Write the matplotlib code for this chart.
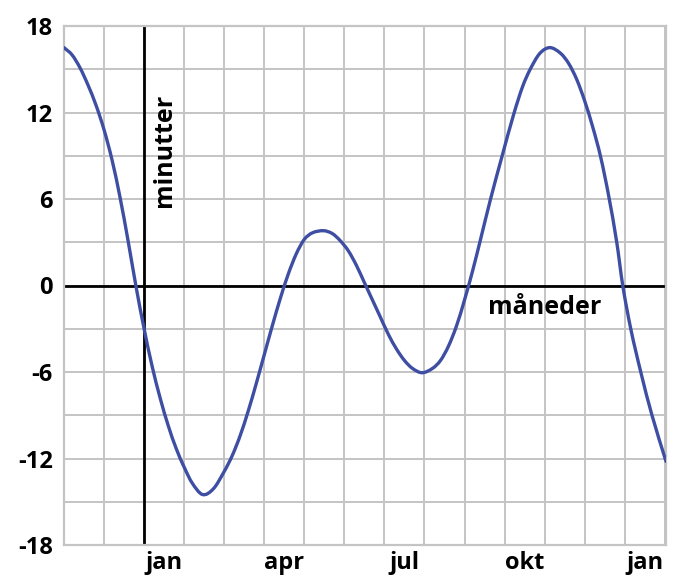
import matplotlib
matplotlib.use("Agg")
import matplotlib.pyplot as plt
from matplotlib.path import Path
from matplotlib.patches import PathPatch

# months since 1 January, value in minutes
months = [-2.0, -1.8, -1.6, -1.4, -1.2, -1.0, -0.8, -0.6, -0.4, -0.2,
          0.0, 0.2, 0.4, 0.6, 0.8, 1.0, 1.2, 1.46, 1.73, 2.0, 2.2, 2.4,
          2.6, 2.8, 3.0, 3.2, 3.4, 3.6, 3.8, 4.0, 4.2, 4.48, 4.7, 4.9,
          5.1, 5.3, 5.5, 5.7, 5.9, 6.1, 6.3, 6.5, 6.7, 6.94, 7.2, 7.4,
          7.6, 7.8, 8.0, 8.2, 8.4, 8.65, 8.94, 9.23, 9.45, 9.64, 9.88,
          10.13, 10.4, 10.6, 10.8, 11.0, 11.2, 11.4, 11.6, 11.8, 11.95,
          12.15, 12.4, 12.68, 13.03]
minutes = [16.5, 16.0, 15.1, 13.9, 12.5, 10.8, 8.7, 6.1, 3.1, -0.1,
           -3.0, -5.6, -7.8, -9.7, -11.3, -12.6, -13.7, -14.5, -14.1, -12.9, -11.8, -10.4,
           -8.7, -6.8, -4.8, -2.8, -0.9, 0.8, 2.2, 3.2, 3.65, 3.8, 3.6, 3.1,
           2.4, 1.4, 0.2, -1.0, -2.2, -3.4, -4.4, -5.2, -5.75, -6.05, -5.75, -5.2,
           -4.2, -2.8, -1.0, 1.0, 3.2, 6.0, 9.0, 11.9, 13.8, 15.0, 16.1,
           16.5, 16.1, 15.4, 14.3, 12.8, 11.0, 8.9, 6.2, 3.0, 0.0,
           -3.0, -6.0, -9.0, -12.2]

y_ticks = [-18, -12, -6, 0, 6, 12, 18]
x_label_pos = [0.5, 3.5, 6.5, 9.5, 12.5]
x_labels = ["jan", "apr", "jul", "okt", "jan"]

plt.rcParams['font.family'] = ['Open Sans', 'DejaVu Sans']

fig = plt.figure(figsize=(6.8, 5.8), dpi=100)
ax = fig.add_axes([64/680, 1 - 545/580, 602/680, 519/580])

ax.set_xlim(-2, 13.03)
ax.set_ylim(-18, 18)

grid_c = "#c4c4c4"
for m in range(-1, 14):
    ax.axvline(m, color=grid_c, lw=1.4, zorder=1)
for v in range(-15, 18, 3):
    ax.axhline(v, color=grid_c, lw=1.4, zorder=1)
for s in ax.spines.values():
    s.set_color(grid_c)
    s.set_linewidth(1.6)

ax.axhline(0, color="black", lw=2.0, zorder=2)
ax.axvline(0, color="black", lw=2.0, zorder=2)

# smooth line through the read points (cubic Hermite -> Bezier segments)
n = len(months)
slopes = []
for i in range(n):
    a = max(i - 1, 0)
    b = min(i + 1, n - 1)
    slopes.append((minutes[b] - minutes[a]) / (months[b] - months[a]))
verts = [(months[0], minutes[0])]
codes = [Path.MOVETO]
for i in range(n - 1):
    dx = months[i + 1] - months[i]
    verts.append((months[i] + dx / 3, minutes[i] + slopes[i] * dx / 3))
    verts.append((months[i + 1] - dx / 3, minutes[i + 1] - slopes[i + 1] * dx / 3))
    verts.append((months[i + 1], minutes[i + 1]))
    codes += [Path.CURVE4] * 3
curve = PathPatch(Path(verts, codes), facecolor="none", edgecolor="#3e4ea3",
                  lw=2.4, zorder=3, capstyle="round", joinstyle="round")
ax.add_patch(curve)

ax.set_yticks(y_ticks)
ax.set_yticklabels([str(t) for t in y_ticks], fontsize=17, fontweight="bold")
ax.set_xticks(x_label_pos)
ax.set_xticklabels(x_labels, fontsize=17, fontweight="bold")
ax.tick_params(axis="both", length=0)
ax.tick_params(axis="y", pad=8)
ax.tick_params(axis="x", pad=4)

ax.text(0.52, 9.4, "minutter", rotation=90, ha="center", va="center",
        fontsize=18, fontweight="bold", zorder=4)
ax.text(10.0, -1.55, "måneder", ha="center", va="center",
        fontsize=18, fontweight="bold", zorder=4)

fig.savefig("out.png", dpi=100)
